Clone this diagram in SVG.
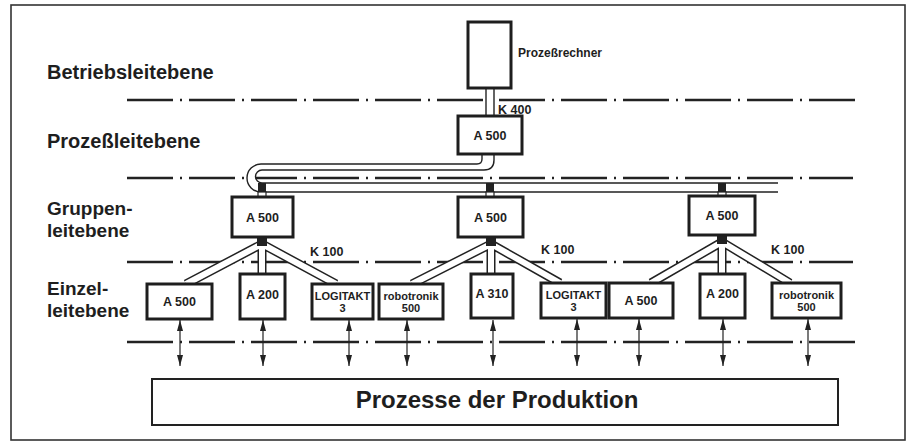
<svg xmlns="http://www.w3.org/2000/svg" width="911" height="446" viewBox="0 0 911 446">
<style>
text{font-family:"Liberation Sans",Arial,sans-serif;font-weight:bold;fill:#1e1e1e}
.lvl{font-size:20px}
.lvl2{font-size:19px}
.box{fill:#fff;stroke:#1e1e1e;stroke-width:3}
.dd{stroke:#222;stroke-width:2.5;stroke-dasharray:46 7 2 7;fill:none}
.rail{fill:none;stroke:#222;stroke-width:1.4}
.tb{fill:none;stroke:#222;stroke-width:9}
.tw{fill:none;stroke:#fff;stroke-width:6}
.io{stroke:#222;stroke-width:1.2;marker-start:url(#ah);marker-end:url(#ah)}
.t12{font-size:12.5px}
.t11{font-size:11px}
</style>
<defs>
<marker id="ah" viewBox="0 0 11 6" refX="11" refY="3" markerWidth="11" markerHeight="6" markerUnits="userSpaceOnUse" orient="auto-start-reverse"><path d="M0,0 L11,3 L0,6 z" fill="#222"/></marker>
</defs>
<rect x="0" y="0" width="911" height="446" fill="#fff"/>
<rect x="11" y="5" width="894" height="435" fill="none" stroke="#333" stroke-width="1.6"/>

<g id="levels">
<text class="lvl" x="47" y="79">Betriebsleitebene</text>
<text class="lvl" x="47" y="148">Prozeßleitebene</text>
<text class="lvl2" x="47" y="215">Gruppen-</text>
<text class="lvl2" x="47" y="237">leitebene</text>
<text class="lvl2" x="47" y="295">Einzel-</text>
<text class="lvl2" x="47" y="317">leitebene</text>
</g>

<g id="dashlines">
<line class="dd" x1="127" y1="100" x2="855" y2="100"/>
<line class="dd" x1="127" y1="178" x2="853" y2="178"/>
<line class="dd" x1="127" y1="262" x2="853" y2="262"/>
<line class="dd" x1="127" y1="342" x2="855" y2="342"/>
</g>

<g id="connectors">
<!-- K400 -->
<rect x="486" y="88" width="8" height="28" fill="#fff"/>
<line class="rail" x1="486" y1="88" x2="486" y2="116"/>
<line class="rail" x1="494" y1="88" x2="494" y2="116"/>
<text class="t12" x="498" y="114">K 400</text>
<!-- bus -->
<path d="M488,154 V160 Q488,167 481,167 H261.5 A10.25,10.25 0 0 0 261.5,187.5 H778" fill="none" stroke="#fff" stroke-width="8"/>
<path class="rail" d="M482,154 V159 Q482,164 477,164 H261 A14,14 0 0 0 261,192 H778"/>
<path class="rail" d="M494,154 V160 Q494,170 484,170 H262 A6.5,6.5 0 0 0 262,183 H778"/>
<!-- stubs -->
<rect x="258" y="183" width="8" height="9" fill="#222"/>
<rect x="258" y="192" width="8" height="6" fill="#fff" stroke="#222" stroke-width="1.2"/>
<rect x="486" y="183" width="8" height="9" fill="#222"/>
<rect x="486" y="192" width="8" height="6" fill="#fff" stroke="#222" stroke-width="1.2"/>
<rect x="718" y="183" width="8" height="9" fill="#222"/>
<rect x="718" y="192" width="8" height="5" fill="#fff" stroke="#222" stroke-width="1.2"/>
<!-- K100 tubes -->
<g class="tb">
<path d="M262,244 L186,284 M262,244 L336,284 M262,244 V274"/>
<path d="M491,244 L412,284 M491,244 L560,283 M491,244 V274"/>
<path d="M722,242 L651,283 M722,242 L790,283 M722,242 V274"/>
</g>
<g class="tw">
<path d="M262,244 L186,284 M262,244 L336,284 M262,244 V274"/>
<path d="M491,244 L412,284 M491,244 L560,283 M491,244 V274"/>
<path d="M722,242 L651,283 M722,242 L790,283 M722,242 V274"/>
</g>
<rect x="257" y="237" width="10" height="9" fill="#222"/>
<rect x="486" y="237" width="10" height="9" fill="#222"/>
<rect x="717" y="235" width="10" height="9" fill="#222"/>
<text class="t12" x="310" y="256">K 100</text>
<text class="t12" x="541" y="254">K 100</text>
<text class="t12" x="771" y="254">K 100</text>
<!-- I/O arrows -->
<line class="io" x1="180" y1="320" x2="180" y2="366"/>
<line class="io" x1="263" y1="320" x2="263" y2="366"/>
<line class="io" x1="349" y1="320" x2="349" y2="366"/>
<line class="io" x1="407" y1="320" x2="407" y2="366"/>
<line class="io" x1="493" y1="320" x2="493" y2="366"/>
<line class="io" x1="577" y1="319" x2="577" y2="366"/>
<line class="io" x1="639" y1="319" x2="639" y2="366"/>
<line class="io" x1="723" y1="319" x2="723" y2="366"/>
<line class="io" x1="808" y1="319" x2="808" y2="366"/>
</g>

<g id="prozessrechner">
<rect class="box" x="468" y="22" width="43" height="66"/>
<text x="518" y="57" style="font-size:12px">Prozeßrechner</text>
</g>
<g id="a500-prozess">
<rect class="box" x="458" y="116" width="64" height="38"/>
<text class="t12" x="490" y="140" text-anchor="middle">A 500</text>
</g>
<g id="a500-gruppe-1">
<rect class="box" x="232" y="197" width="61" height="40"/>
<text class="t12" x="262.5" y="222" text-anchor="middle">A 500</text>
</g>
<g id="a500-gruppe-2">
<rect class="box" x="458" y="197" width="65" height="40"/>
<text class="t12" x="490.5" y="222" text-anchor="middle">A 500</text>
</g>
<g id="a500-gruppe-3">
<rect class="box" x="689" y="196" width="66" height="39"/>
<text class="t12" x="722" y="220" text-anchor="middle">A 500</text>
</g>

<g id="e-a500-1">
<rect class="box" x="147" y="284" width="65" height="35"/>
<text class="t12" x="179.5" y="306" text-anchor="middle">A 500</text>
</g>
<g id="e-a200-1">
<rect class="box" x="240" y="274" width="45" height="45"/>
<text class="t12" x="262.5" y="299" text-anchor="middle">A 200</text>
</g>
<g id="e-logitakt-1">
<rect class="box" x="312" y="284" width="61" height="35"/>
<text class="t11" x="342.5" y="300" text-anchor="middle">LOGITAKT</text>
<text class="t11" x="342.5" y="312" text-anchor="middle">3</text>
</g>
<g id="e-robotronik-1">
<rect class="box" x="379" y="284" width="64" height="35"/>
<text class="t11" x="411" y="300" text-anchor="middle">robotronik</text>
<text class="t11" x="411" y="312" text-anchor="middle">500</text>
</g>
<g id="e-a310">
<rect class="box" x="471" y="274" width="42" height="44"/>
<text class="t12" x="492" y="298" text-anchor="middle">A 310</text>
</g>
<g id="e-logitakt-2">
<rect class="box" x="541" y="283" width="65" height="35"/>
<text class="t11" x="573.5" y="299" text-anchor="middle">LOGITAKT</text>
<text class="t11" x="573.5" y="311" text-anchor="middle">3</text>
</g>
<g id="e-a500-2">
<rect class="box" x="609" y="283" width="64" height="35"/>
<text class="t12" x="641" y="305" text-anchor="middle">A 500</text>
</g>
<g id="e-a200-2">
<rect class="box" x="700" y="274" width="45" height="44"/>
<text class="t12" x="722.5" y="298" text-anchor="middle">A 200</text>
</g>
<g id="e-robotronik-2">
<rect class="box" x="772" y="283" width="69" height="35"/>
<text class="t11" x="806.5" y="299" text-anchor="middle">robotronik</text>
<text class="t11" x="806.5" y="311" text-anchor="middle">500</text>
</g>

<g id="produktion">
<rect x="152" y="379" width="686" height="46" fill="#fff" stroke="#222" stroke-width="2"/>
<text x="497" y="408" text-anchor="middle" style="font-size:24px">Prozesse der Produktion</text>
</g>
</svg>
